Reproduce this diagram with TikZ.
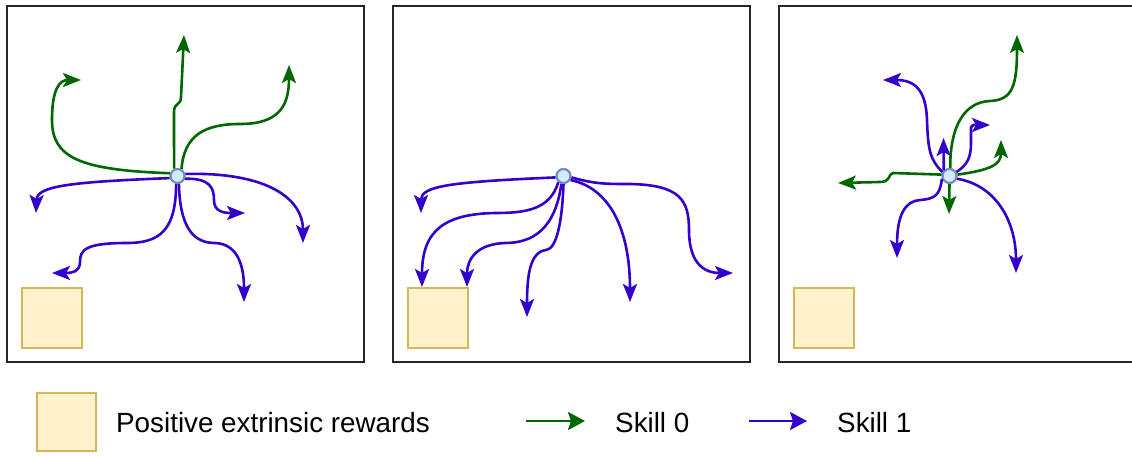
\documentclass[tikz,border=0pt]{standalone}
\usepackage{fontspec}
\setmainfont{Liberation Sans}
\usepackage{xcolor}
\usepackage{tikz}
\usetikzlibrary{arrows.meta,positioning,calc}
\definecolor{skillgreen}{HTML}{006600}
\definecolor{skillblue}{HTML}{3300CC}
\definecolor{rewardfill}{HTML}{FFF2CC}
\definecolor{rewarddraw}{HTML}{D6B656}
\definecolor{startfill}{HTML}{DAE8FC}
\definecolor{startdraw}{HTML}{6C8EBF}
\tikzset{frame/.style={draw=black!85, line width=1.3pt},
  reward/.style={draw=rewarddraw, fill=rewardfill, line width=1.2pt},
  start/.style={circle, draw=startdraw, fill=startfill, line width=2.2pt, minimum size=14pt, inner sep=0pt},
  skill/.style={line width=2.6pt, -{Stealth[length=18pt,width=14pt,inset=4pt]}},
  skillzero/.style={skill, draw=skillgreen},
  skillone/.style={skill, draw=skillblue},
  legendarrow/.style={line width=2.6pt, -{Stealth[length=17pt,width=18pt,inset=3pt]}},
  legendtext/.style={anchor=base west, inner sep=0pt, font=\fontsize{27.8}{32}\selectfont}}

\begin{document}
\begin{tikzpicture}[x=1pt,y=-1pt]
\useasboundingbox (0,0) rectangle (1132,455);
\clip (0,0) rectangle (1132,455);
\foreach \dx/\n in {0/1,386/2,772/3}{
  \draw[frame] (7+\dx,6) rectangle (364+\dx,362);
  \draw[reward] (22+\dx,288) rectangle (82+\dx,348);
  \node[start] (c\n) at (177.5+\dx,176) {};
}
\coordinate (t11) at (81,80);
\coordinate (t12) at (184,35);
\coordinate (t13) at (289,65);
\coordinate (t14) at (36,213);
\coordinate (t15) at (303,243);
\coordinate (t16) at (245,213);
\coordinate (t17) at (52,273);
\coordinate (t18) at (244,302);
\draw[skillzero] (c1.160) .. controls (80,170) and (52,158) .. (52,120) .. controls (52,88) and (60,80) .. (t11);
\draw[skillzero] (c1.115) -- (174,112) .. controls (174,102) and (181,106) .. (181,97) -- (t12);
\draw[skillzero] (c1.60) .. controls (184,135) and (205,124) .. (240,124) .. controls (280,124) and (289,105) .. (t13);
\draw[skillone] (c1.195) .. controls (70,182) and (37,186) .. (t14);
\draw[skillone] (c1.15) .. controls (270,172) and (303,200) .. (t15);
\draw[skillone] (c1.-20) .. controls (210,178) and (214,188) .. (214,200) .. controls (214,212) and (224,213) .. (t16);
\draw[skillone] (c1.-100) .. controls (176,230) and (160,243) .. (127,243) .. controls (85,243) and (80,250) .. (80,262) .. controls (80,272) and (72,273) .. (t17);
\draw[skillone] (c1.-80) .. controls (180,230) and (195,243) .. (215,243) .. controls (240,244) and (244,270) .. (t18);
\coordinate (t21) at (421,213);
\coordinate (t22) at (422,287);
\coordinate (t23) at (467,287);
\coordinate (t24) at (527,317);
\coordinate (t25) at (630,302);
\coordinate (t26) at (733,273);
\draw[skillone] (c2.190) .. controls (450,182) and (421,186) .. (t21);
\draw[skillone] (c2.230) .. controls (550,210) and (525,213) .. (495,213) .. controls (445,214) and (422,230) .. (t22);
\draw[skillone] (c2.255) .. controls (555,230) and (532,243) .. (505,243) .. controls (478,244) and (467,258) .. (t23);
\draw[skillone] (c2.270) .. controls (562,225) and (556,249) .. (546,250) .. controls (530,252) and (527,275) .. (t24);
\draw[skillone] (c2.-30) .. controls (610,188) and (630,230) .. (t25);
\draw[skillone] (c2.-10) .. controls (595,184) and (605,184) .. (630,184) .. controls (680,185) and (689,200) .. (689,230) .. controls (689,262) and (703,273) .. (t26);
\coordinate (t31) at (1017,35);
\coordinate (t32) at (1001,140);
\coordinate (t33) at (838,183);
\coordinate (t34) at (949,214);
\coordinate (t35) at (943.5,138);
\coordinate (t36) at (883,80);
\coordinate (t37) at (990,125);
\coordinate (t38) at (897,258);
\coordinate (t39) at (1016,273);
\draw[skillzero] (c3.85) .. controls (950,125) and (965,102) .. (990,101) .. controls (1013,100) and (1017,85) .. (t31);
\draw[skillzero] (c3.10) .. controls (990,170) and (1001,165) .. (t32);
\draw[skillzero] (c3.170) -- (893,173) .. controls (888,174) and (891,182) .. (880,182) -- (t33);
\draw[skillzero] (c3.270) -- (t34);
\draw[skillone] (c3.north west) -- (t35);
\draw[skillone] (c3.150) .. controls (930,160) and (928,150) .. (927,120) .. controls (926,90) and (915,80) .. (t36);
\draw[skillone, rounded corners=3pt] (c3.30) .. controls (967,165) and (971,158) .. (971,140) -- (971,125) -- (t37);
\draw[skillone] (c3.200) .. controls (940,195) and (935,199) .. (920,200) .. controls (905,201) and (897,215) .. (t38);
\draw[skillone] (c3.-20) .. controls (995,185) and (1016,220) .. (t39);
\draw[reward] (37,393) rectangle (96,451);
\node[legendtext] (rewards) at (116,432) {Positive extrinsic rewards};
\coordinate (l0a) at (526,421);
\coordinate (l0b) at (585,421);
\coordinate (l1a) at (749,421);
\coordinate (l1b) at (807,421);
\draw[legendarrow, draw=skillgreen] (l0a) -- (l0b);
\node[legendtext] (skill0) at (615,432) {Skill 0};
\draw[legendarrow, draw=skillblue] (l1a) -- (l1b);
\node[legendtext] (skill1) at (837,432) {Skill 1};
\end{tikzpicture}
\end{document}
